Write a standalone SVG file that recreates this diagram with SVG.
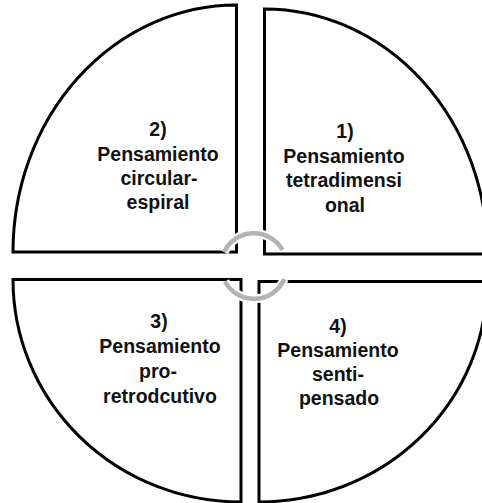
<svg xmlns="http://www.w3.org/2000/svg" width="482" height="503" viewBox="0 0 482 503">
<style>
.q{fill:#fff;stroke:#000;stroke-width:3;stroke-linejoin:miter}
.t{font-family:"Liberation Sans",Arial,sans-serif;font-weight:bold;font-size:19.5px;fill:#111;text-anchor:middle}
.halo{fill:none;stroke:#fff;stroke-width:9}
.arc{fill:none;stroke:#b3b3b3;stroke-width:4.5}
</style>
<rect width="482" height="503" fill="#fff"/>
<g id="q2">
<path class="q" d="M236.5,5 V252 H13 A223.5,247 0 0 1 236.5,5 Z"/>
<text class="t" x="158" y="136">2)</text>
<text class="t" x="158" y="160.5">Pensamiento</text>
<text class="t" x="159" y="185">circular-</text>
<text class="t" x="158" y="209">espiral</text>
</g>
<g id="q1">
<path class="q" d="M264.5,9 V254 H487.5 A223,245 0 0 0 264.5,9 Z"/>
<text class="t" x="345" y="138">1)</text>
<text class="t" x="344" y="162.5">Pensamiento</text>
<text class="t" x="344" y="187">tetradimensi</text>
<text class="t" x="345" y="211.5">onal</text>
</g>
<g id="q3">
<path class="q" d="M13,279.5 H241 V502 A228,222.5 0 0 1 13,279.5 Z"/>
<text class="t" x="159" y="328">3)</text>
<text class="t" x="160" y="353">Pensamiento</text>
<text class="t" x="158" y="378">pro-</text>
<text class="t" x="160" y="402.5">retrodcutivo</text>
</g>
<g id="q4">
<path class="q" d="M259,281.5 H487 A228,220.5 0 0 1 259,502 Z"/>
<text class="t" x="338" y="333">4)</text>
<text class="t" x="338" y="357">Pensamiento</text>
<text class="t" x="338" y="381">senti-</text>
<text class="t" x="339" y="405">pensado</text>
</g>
<g id="connectors">
<path class="halo" d="M224.1,252 A33,33 0 0 1 282.5,250"/>
<path class="halo" d="M284.3,279 A33,33 0 0 1 225,281.5"/>
<path class="arc" d="M224.1,252 A33,33 0 0 1 282.5,250"/>
<path class="arc" d="M284.3,279 A33,33 0 0 1 225,281.5"/>
</g>
</svg>
